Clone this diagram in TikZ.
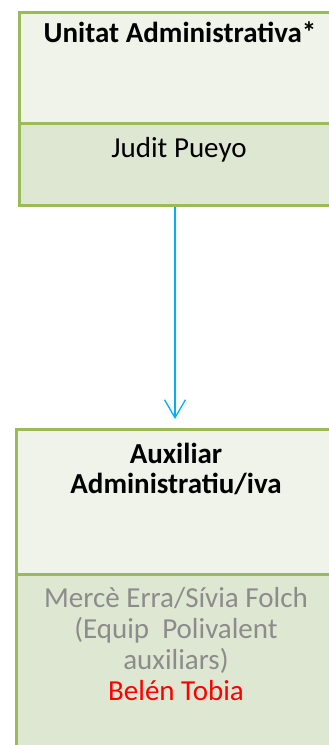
\documentclass[tikz,border=0pt]{standalone}
\usepackage{fontspec}
\setmainfont{Carlito}
\usepackage{tikz}
\usetikzlibrary{positioning,arrows.meta}
\definecolor{boxline}{HTML}{9BBB59}
\definecolor{headfill}{HTML}{EFF3EA}
\definecolor{bodyfill}{HTML}{DEE7D2}
\definecolor{linkblue}{HTML}{00B0F0}
\definecolor{vacant}{HTML}{8C8C8C}

\begin{document}
\begin{tikzpicture}[x=1pt,y=-1pt,
  sec/.style={draw=boxline,line width=3pt,anchor=north west,inner sep=0pt},
  head/.style={sec,fill=headfill},
  body/.style={sec,fill=bodyfill},
  label/.style={font=\fontsize{29}{31}\selectfont,align=center,anchor=base,inner sep=0pt}]
\useasboundingbox (0,0) rectangle (329,745);
\clip (0,0) rectangle (329,745);
% Unitat Administrativa
\node[head,minimum width=322.5pt,minimum height=111.5pt] (uaHead) at (17.5,10.5) {};
\node[body,minimum width=322.5pt,minimum height=81.5pt] (uaBody) at (17.5,122) {};
\node[label,font=\fontsize{29}{31}\selectfont\bfseries] (uaTitle) at (180,42) {Unitat Administrativa*};
\node[label] (uaName) at (179,157) {Judit Pueyo};
% Auxiliar Administratiu/iva
\node[head,minimum width=330pt,minimum height=145.5pt] (axHead) at (14.5,427.5) {};
\node[body,minimum width=330pt,minimum height=190pt] (axBody) at (14.5,573) {};
\node[label,font=\fontsize{29}{30}\selectfont\bfseries] (axTitle) at (176,493) {Auxiliar\\Administratiu/iva};
\node[label,text=vacant] (axName) at (176,700) {Mercè Erra/Sívia Folch\\(Equip~ Polivalent\\auxiliars)\\\textcolor{red}{Belén Tobia}};
% link
\coordinate (uaLink) at (uaBody.south -| 175,0);
\coordinate (axLink) at (175,419);
\draw[linkblue,line width=1.3pt,-{Straight Barb[length=18pt,width=21pt]}] (uaLink) -- (axLink);
\end{tikzpicture}
\end{document}
